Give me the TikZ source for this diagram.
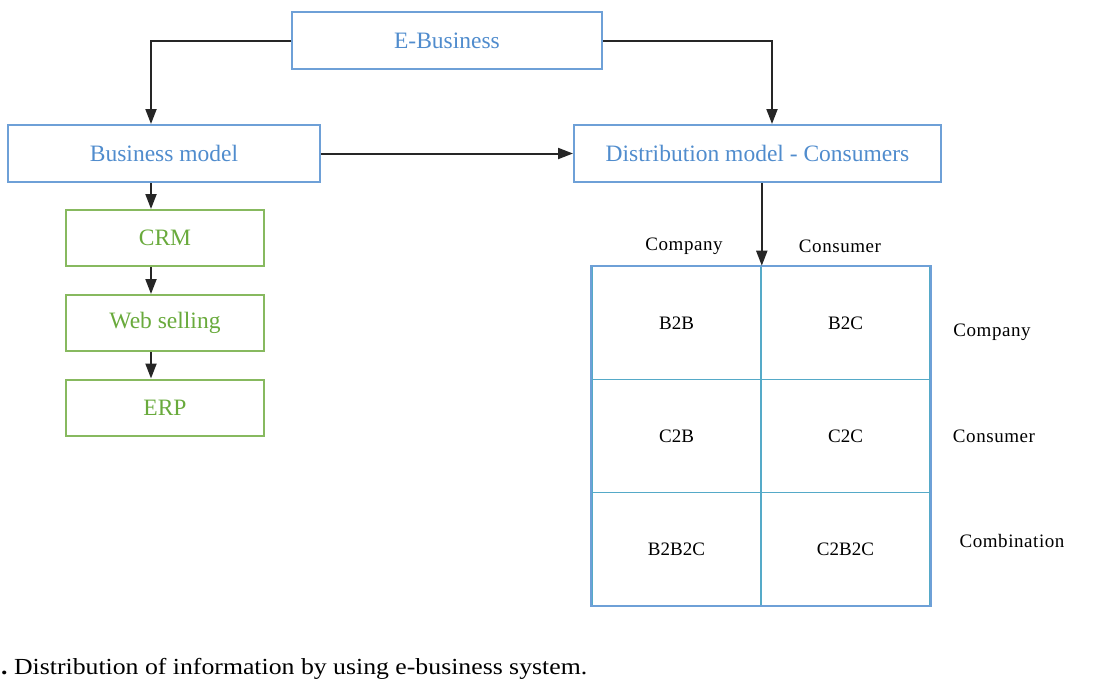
\documentclass[tikz,border=0pt]{standalone}
\usepackage{fontspec}
\setmainfont{Liberation Serif}
\usetikzlibrary{arrows.meta,positioning,calc}
\definecolor{bluebox}{RGB}{110,160,215}
\definecolor{bluetext}{RGB}{80,140,205}
\definecolor{greenbox}{RGB}{135,185,95}
\definecolor{greentext}{RGB}{105,170,60}
\definecolor{gridline}{RGB}{85,170,200}
\begin{document}
\begin{tikzpicture}[x=1pt,y=-1pt,
  bluenode/.style={draw=bluebox,line width=2pt,inner sep=0pt,text=bluetext,
    font=\fontsize{23.5}{27}\selectfont},
  greennode/.style={draw=greenbox,line width=2pt,inner sep=0pt,text=greentext,
    minimum width=198pt,minimum height=56pt,font=\fontsize{23.5}{27}\selectfont},
  cell/.style={draw=gridline,line width=1.6pt,inner sep=0pt,minimum width=169pt,
    minimum height=113pt,font=\fontsize{19}{22}\selectfont},
  lbl/.style={inner sep=0pt,font=\fontsize{19}{22}\selectfont\addfontfeature{LetterSpace=3}},
  conn/.style={line width=2pt,draw=black!85,-{Triangle[length=15pt,width=11pt]}}]
\useasboundingbox (0,0) rectangle (1098,694);
% main boxes
\node[bluenode,minimum width=310pt,minimum height=57pt] (eb) at (447,40.5) {E-Business};
\node[bluenode,minimum width=312pt,minimum height=57pt] (bm) at (164,153.5) {Business model};
\node[bluenode,minimum width=367pt,minimum height=57pt] (dm) at (757.5,153.5) {Distribution model - Consumers};
% green chain
\node[greennode] (crm) at (165,238) {CRM};
\node[greennode] (web) at (165,323) {Web selling};
\node[greennode] (erp) at (165,407.5) {ERP};
% grid cells
\node[cell] (c11) at (676.5,323) {B2B};
\node[cell] (c12) at (845.5,323) {B2C};
\node[cell] (c21) at (676.5,436) {C2B};
\node[cell] (c22) at (845.5,436) {C2C};
\node[cell] (c31) at (676.5,549) {B2B2C};
\node[cell] (c32) at (845.5,549) {C2B2C};
\draw[draw=bluebox,line width=2pt] (c11.north west) rectangle (c32.south east);
\coordinate (gtop) at (c11.north east);
% labels
\node[lbl] (lco) at (684,246) {Company};
\node[lbl] (lcs) at (840,246) {Consumer};
\node[lbl] (rco) at (992,332) {Company};
\node[lbl] (rcs) at (994,436) {Consumer};
\node[lbl] (rcb) at (1012,541) {Combination};
% connectors
\coordinate (lx) at (151,0);
\coordinate (rx) at (772,0);
\draw[conn] (eb.west) -| (bm.north -| lx);
\draw[conn] (eb.east) -| (dm.north -| rx);
\draw[conn] (bm.east) -- (dm.west);
\draw[conn] (bm.south -| lx) -- (crm.north -| lx);
\draw[conn] (crm.south -| lx) -- (web.north -| lx);
\draw[conn] (web.south -| lx) -- (erp.north -| lx);
\draw[conn] (dm.south -| gtop) -- (gtop);
% caption
\node[anchor=west,inner sep=0pt,font=\fontsize{23}{27}\selectfont\addfontfeature{FakeStretch=1.12}] (cap) at (1,669)
  {\textbf{.}\ Distribution of information by using e-business system.};
\end{tikzpicture}
\end{document}
